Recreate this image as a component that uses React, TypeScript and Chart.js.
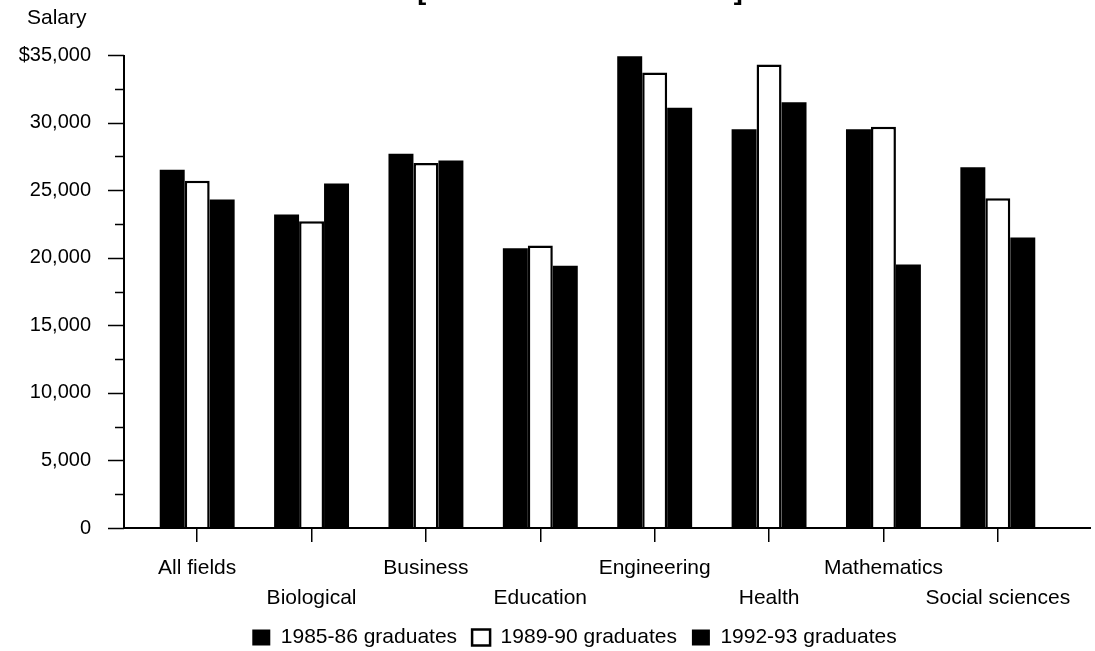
import React, { useEffect, useRef } from 'react';
import { Chart, registerables } from 'chart.js';

Chart.register(...registerables);

const categories = ['All fields', 'Biological', 'Business', 'Education', 'Engineering', 'Health', 'Mathematics', 'Social sciences'];
const series1985 = [26500, 23200, 27700, 20700, 34900, 29500, 29500, 26700];
const series1989 = [25700, 22700, 27000, 20900, 33700, 34300, 29700, 24400];
const series1992 = [24300, 25500, 27200, 19400, 31100, 31500, 19500, 21500];
const seriesLabels = ['1985-86 graduates', '1989-90 graduates', '1992-93 graduates'];
const yMajorTicks = [0, 5000, 10000, 15000, 20000, 25000, 30000, 35000];
const yMinorTicks = [2500, 7500, 12500, 17500, 22500, 27500, 32500];
const yAxisTitle = 'Salary';
const subtitle = '[In constant 1994 dollars]';

const FONT = '"Liberation Sans", Arial, Helvetica, sans-serif';

const axisPlugin = {
  id: 'axisLines',
  afterLayout(chart: any) {
    const lg = chart.legend;
    if (lg) {
      lg.left += 47;
      lg.right += 47;
    }
  },
  afterDraw(chart: any) {
    const { ctx, chartArea, scales } = chart;
    const y = scales.y;
    const axisX = chartArea.left - 16;
    const axisRight = chartArea.right + 36;
    const yMax = yMajorTicks[yMajorTicks.length - 1];
    const y0 = y.getPixelForValue(0);
    const yTop = y.getPixelForValue(yMax);
    ctx.save();
    ctx.strokeStyle = '#000';
    ctx.lineWidth = 2;
    ctx.beginPath();
    ctx.moveTo(axisX, yTop);
    ctx.lineTo(axisX, y0);
    ctx.moveTo(axisX - 1, y0);
    ctx.lineTo(axisRight, y0);
    ctx.stroke();
    ctx.lineWidth = 1.5;
    ctx.beginPath();
    yMajorTicks.forEach((v) => {
      const py = Math.round(y.getPixelForValue(v)) + 0.5;
      ctx.moveTo(axisX - 16, py);
      ctx.lineTo(axisX, py);
    });
    yMinorTicks.forEach((v) => {
      const py = Math.round(y.getPixelForValue(v)) + 0.5;
      ctx.moveTo(axisX - 9, py);
      ctx.lineTo(axisX, py);
    });
    ctx.stroke();
    ctx.fillStyle = '#000';
    ctx.font = `21px ${FONT}`;
    ctx.textAlign = 'left';
    ctx.textBaseline = 'middle';
    ctx.fillText(yAxisTitle, 27, 18);
    ctx.font = `bold 27px ${FONT}`;
    ctx.textAlign = 'center';
    ctx.textBaseline = 'alphabetic';
    ctx.fillText(subtitle, 580, -1);
    ctx.restore();
  },
};

export default function App() {
  const ref = useRef<HTMLCanvasElement>(null);
  useEffect(() => {
    document.body.style.margin = '0';
    const canvas = ref.current;
    if (!canvas) return;
    const labels = categories.map((c, i) => (i % 2 === 0 ? [c, ''] : ['', c]));
    const chart = new Chart(canvas, {
      type: 'bar',
      data: {
        labels,
        datasets: [
          { label: seriesLabels[0], data: series1985, backgroundColor: '#000', borderColor: '#000', borderWidth: 0 },
          { label: seriesLabels[1], data: series1989, backgroundColor: '#fff', borderColor: '#000', borderWidth: 2.5 },
          { label: seriesLabels[2], data: series1992, backgroundColor: '#000', borderColor: '#000', borderWidth: 0 },
        ],
      },
      options: {
        responsive: false,
        animation: false,
        layout: { padding: { top: 55, left: 0, right: 40, bottom: -7 } },
        datasets: { bar: { categoryPercentage: 0.655, barPercentage: 1 } },
        plugins: {
          legend: {
            position: 'bottom',
            labels: {
              color: '#000',
              font: { family: FONT, size: 21 },
              boxWidth: 18,
              boxHeight: 16,
              padding: 15,
            },
          },
          tooltip: { enabled: false },
        },
        scales: {
          x: {
            afterFit: (s: any) => { s.height = 84; },
            border: { display: false },
            grid: {
              display: true,
              drawOnChartArea: false,
              drawTicks: true,
              tickLength: 14,
              offset: false,
              color: '#000',
              lineWidth: 1.5,
            },
            ticks: {
              color: '#000',
              font: { family: FONT, size: 21, lineHeight: 30 / 21 },
              padding: 11,
              autoSkip: false,
              maxRotation: 0,
              minRotation: 0,
            },
          },
          y: {
            min: 0,
            max: 35000,
            afterFit: (s: any) => { s.width = 140; },
            border: { display: false },
            grid: { display: false, drawTicks: true, tickLength: 45 },
            ticks: {
              stepSize: 5000,
              color: '#000',
              padding: 4,
              font: { family: FONT, size: 20 },
              callback: (v: any) => (v === 35000 ? '$35,000' : Number(v).toLocaleString('en-US')),
            },
          },
        },
      },
      plugins: [axisPlugin],
    });
    return () => chart.destroy();
  }, []);
  return (
    <div style={{ width: 1095, height: 651, background: '#fff' }}>
      <canvas ref={ref} width={1095} height={651} />
    </div>
  );
}
